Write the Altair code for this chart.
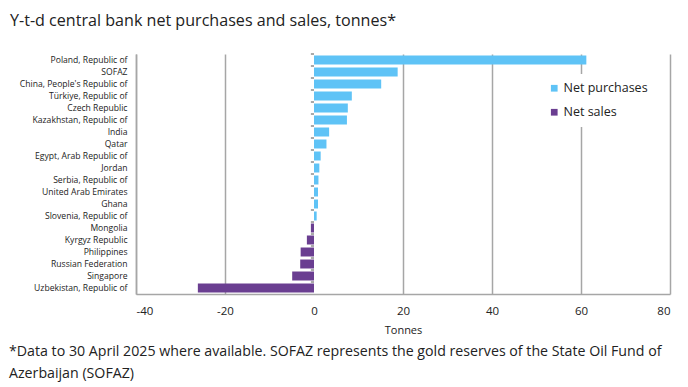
import altair as alt
import pandas as pd

countries = ["Poland, Republic of", "SOFAZ", "China, People's Republic of", "Türkiye, Republic of",
             "Czech Republic", "Kazakhstan, Republic of", "India", "Qatar", "Egypt, Arab Republic of",
             "Jordan", "Serbia, Republic of", "United Arab Emirates", "Ghana", "Slovenia, Republic of",
             "Mongolia", "Kyrgyz Republic", "Philippines", "Russian Federation", "Singapore",
             "Uzbekistan, Republic of"]
values = [61.2, 18.8, 15.1, 8.5, 7.6, 7.4, 3.4, 2.8, 1.5, 1.2, 1.0, 0.9, 0.9, 0.6,
          -0.7, -1.6, -3.0, -3.1, -4.9, -26.1]
series = ["Net purchases", "Net sales"]
colors = ["#5fc3f6", "#6a3e91"]
x_ticks = [-40, -20, 0, 20, 40, 60, 80]

title_text = "Y-t-d central bank net purchases and sales, tonnes*"
footer_lines = ["*Data to 30 April 2025 where available. SOFAZ represents the gold reserves of the State Oil Fund of",
                "Azerbaijan (SOFAZ)"]

df = pd.DataFrame({
    "country": countries,
    "value": values,
    "type": [series[0] if v > 0 else series[1] for v in values],
})

FONT = "Open Sans"
W, H = 534, 240

ysc = alt.Scale(domain=countries, paddingInner=0.25, paddingOuter=0.125)

bars = alt.Chart(df).mark_bar().encode(
    x=alt.X("value:Q",
            scale=alt.Scale(domain=[-40, 80], nice=False),
            axis=alt.Axis(values=x_ticks, title="Tonnes", ticks=False, labelPadding=11,
                          labelExpr="'' + datum.value", labelFontSize=11.5, titleFontSize=11,
                          titleFontWeight="normal", titlePadding=8, domainColor="#a6a6a6",
                          domainWidth=1.5, labelColor="#222", titleColor="#222", labelFont=FONT,
                          titleFont=FONT,
                          gridColor=alt.condition("datum.value === 0", alt.value("transparent"),
                                                  alt.value("#a6a6a6")),
                          gridWidth=1.5)),
    y=alt.Y("country:N", scale=ysc, sort=countries,
            axis=alt.Axis(title=None, ticks=False, labelPadding=9, labelFontSize=8.6,
                          labelColor="#222", labelFont=FONT, domainColor="#a6a6a6",
                          domainWidth=1.5, grid=False)),
    color=alt.Color("type:N", scale=alt.Scale(domain=series, range=colors),
                    legend=alt.Legend(title=None, orient="none", legendX=404, legendY=20,
                                      symbolType="square", symbolSize=45, labelFontSize=12.5,
                                      labelFont=FONT, labelColor="#222", rowPadding=11,
                                      padding=8, fillColor="white", labelOffset=3,
                                      symbolStrokeWidth=0)),
)

ticks = alt.Chart(df).mark_rule(color="#555", strokeWidth=1, yOffset=-6).encode(
    x=alt.datum(0),
    x2=alt.datum(-0.7),
    y=alt.Y("country:N", scale=ysc, sort=countries),
)

footer = alt.Chart(pd.DataFrame({"t": [footer_lines[0]], "i": [0]})).mark_text(
    align="left", baseline="middle", fontSize=14.2, font=FONT, color="#222"
).encode(text="t:N", x=alt.value(-127), y=alt.value(298))
footer2 = alt.Chart(pd.DataFrame({"t": [footer_lines[1]], "i": [1]})).mark_text(
    align="left", baseline="middle", fontSize=14.2, font=FONT, color="#222"
).encode(text="t:N", x=alt.value(-127), y=alt.value(320))

chart = alt.layer(bars, ticks, footer, footer2).properties(
    width=W, height=H,
    autosize=alt.AutoSizeParams(type="none"),
    padding={"left": 128, "top": 46, "right": 10, "bottom": 88},
    title=alt.TitleParams(title_text, anchor="start", frame="group", dx=-126, fontSize=16.1,
                          font=FONT, fontWeight="normal", color="#222", offset=24),
).configure_view(stroke=None)

chart.save("out.html", embed_options={"renderer": "svg", "actions": False})
